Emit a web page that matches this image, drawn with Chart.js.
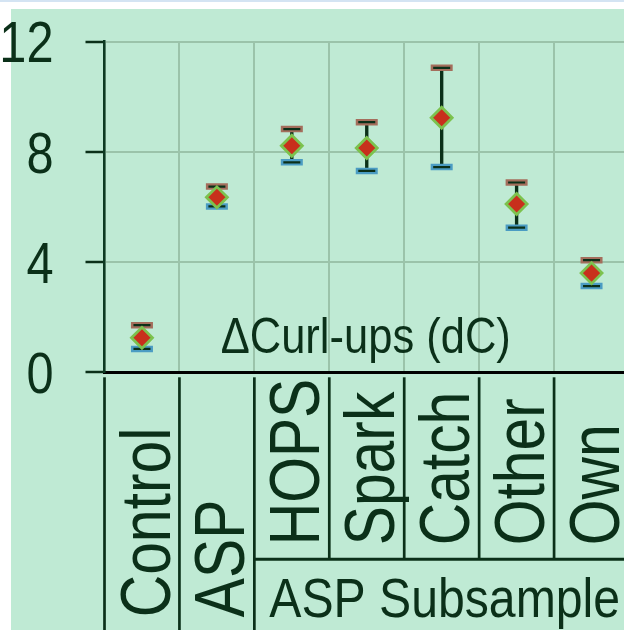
<!DOCTYPE html>
<html>
<head>
<meta charset="utf-8">
<script src="https://cdn.jsdelivr.net/npm/chart.js@4.4.1/dist/chart.umd.min.js"></script>
<style>
  html, body { margin: 0; padding: 0; background: #ffffff; overflow: hidden; width: 624px; height: 630px; }
  #topband { position: absolute; left: 0; top: 0; width: 624px; height: 2px; background: #d4e4f3; }
  #bg { position: absolute; left: 11px; top: 9px; width: 629px; height: 621px; background: #bfead4; }
  #c { position: absolute; left: 0; top: 0; display: block; }
</style>
</head>
<body>
<div id="topband"></div>
<div id="bg"></div>
<canvas id="c" width="640" height="630"></canvas>
<script>
// ---- data ----
const categories = ['Control', 'ASP', 'HOPS', 'Spark', 'Catch', 'Other', 'Own'];
const groupLabel = 'ASP Subsample';
const groupStartIndex = 2;
const highValues = [1.71, 6.74, 8.83, 9.08, 11.05, 6.89, 4.07];
const meanValues = [1.25, 6.35, 8.22, 8.14, 9.24, 6.11, 3.60];
const lowValues  = [0.85, 6.02, 7.62, 7.31, 7.45, 5.25, 3.13];
const yTicks = [0, 4, 8, 12];
const axisTitle = '\u0394Curl-ups (dC)';

// ---- styles ----
const DARK = '#0b3019';
const GRID = '#9bc3aa';
const FONT = '"Liberation Sans", Arial, sans-serif';

const ranges = categories.map((c, i) => [lowValues[i], highValues[i]]);

function squeezedText(ctx, text, x, y, px, sx, align, rot) {
  ctx.save();
  ctx.translate(x, y);
  if (rot) ctx.rotate(rot);
  ctx.scale(sx, 1);
  ctx.font = px + 'px ' + FONT;
  ctx.fillStyle = DARK;
  ctx.textAlign = align;
  ctx.textBaseline = 'alphabetic';
  ctx.fillText(text, 0, 0);
  ctx.restore();
}

const decor = {
  id: 'decor',
  afterDraw(chart) {
    const ctx = chart.ctx;
    const xs = chart.scales.x, ys = chart.scales.y;
    const area = chart.chartArea;
    const H = chart.height;
    const n = categories.length;
    const cw = (area.right - area.left) / n;
    const bounds = [];
    for (let i = 0; i <= n; i++) bounds.push(xs.getPixelForValue(0) - cw / 2 + i * cw);

    // y tick labels
    yTicks.forEach(v => {
      const y = ys.getPixelForValue(v);
      squeezedText(ctx, String(v), area.left - 51, y + 0.358 * 58, 58, 0.84, 'right', 0);
    });

    // axis title inside plot
    squeezedText(ctx, axisTitle, (area.left + area.right) / 2 - 1, area.bottom - 19.5, 50, 0.87, 'center', 0);

    // separators under the axis
    const sepTop = area.bottom + 5;
    const rowLine = area.bottom + 187;
    ctx.save();
    ctx.strokeStyle = DARK;
    ctx.lineWidth = 2.7;
    bounds.forEach((bx, i) => {
      ctx.beginPath();
      ctx.moveTo(bx, sepTop);
      ctx.lineTo(bx, i <= groupStartIndex ? H : rowLine);
      ctx.stroke();
    });
    ctx.lineWidth = 3;
    ctx.beginPath();
    ctx.moveTo(bounds[groupStartIndex] - 1, rowLine);
    ctx.lineTo(bounds[n] + 20, rowLine);
    ctx.stroke();
    ctx.restore();

    // category labels (rotated, reading upward)
    const fs = 70;
    categories.forEach((c, i) => {
      const cx = xs.getPixelForValue(i);
      const startY = i < groupStartIndex ? area.bottom + 245 : rowLine - 14;
      squeezedText(ctx, c, cx + 0.38 * fs + 1, startY, fs, 0.84, 'left', -Math.PI / 2);
    });

    // group label
    const gx = (bounds[groupStartIndex] + bounds[n]) / 2 + 3;
    squeezedText(ctx, groupLabel, gx, area.bottom + 245, 56, 0.86, 'center', 0);
  }
};

new Chart(document.getElementById('c'), {
  type: 'bar',
  data: {
    labels: categories,
    datasets: [
      { type: 'line', data: meanValues, showLine: false, pointStyle: 'rectRot', pointRadius: 10.5,
        pointBackgroundColor: '#c8301c', pointBorderColor: '#7cc24e', pointBorderWidth: 2.8, order: 0 },
      { type: 'line', data: highValues, showLine: false, pointStyle: 'line', pointRadius: 8.5,
        pointBorderColor: DARK, pointBorderWidth: 2.2, order: 1 },
      { type: 'line', data: lowValues, showLine: false, pointStyle: 'line', pointRadius: 8.5,
        pointBorderColor: DARK, pointBorderWidth: 2.2, order: 1 },
      { type: 'line', data: highValues, showLine: false, pointStyle: 'line', pointRadius: 11,
        pointBorderColor: '#a46e5c', pointBorderWidth: 6.5, order: 2 },
      { type: 'line', data: lowValues, showLine: false, pointStyle: 'line', pointRadius: 11,
        pointBorderColor: '#4b9cc3', pointBorderWidth: 6.5, order: 2 },
      { type: 'bar', data: ranges, backgroundColor: DARK, barThickness: 2.7, order: 5 }
    ]
  },
  options: {
    responsive: false,
    animation: false,
    devicePixelRatio: 1,
    layout: { autoPadding: false, padding: { left: 104.5, right: 11, top: 41.7, bottom: 257.7 } },
    plugins: { legend: { display: false }, tooltip: { enabled: false } },
    scales: {
      x: {
        type: 'category',
        offset: true,
        ticks: { display: false },
        grid: { offset: true, color: GRID, lineWidth: 2, drawTicks: false },
        border: { display: true, color: '#000000', width: 3 },
        afterFit: s => { s.height = 0; }
      },
      y: {
        min: 0, max: 12,
        afterBuildTicks: s => { s.ticks = yTicks.map(v => ({ value: v })); },
        ticks: { display: false },
        grid: {
          color: c => (c.tick && c.tick.value === 0) ? 'rgba(0,0,0,0)' : GRID,
          lineWidth: 2,
          drawTicks: true, tickLength: 19, tickColor: DARK, tickWidth: 2.5
        },
        border: { display: true, color: '#0d3a22', width: 2.5 },
        afterFit: s => { s.width = 0; }
      }
    }
  },
  plugins: [decor]
});
</script>
</body>
</html>
